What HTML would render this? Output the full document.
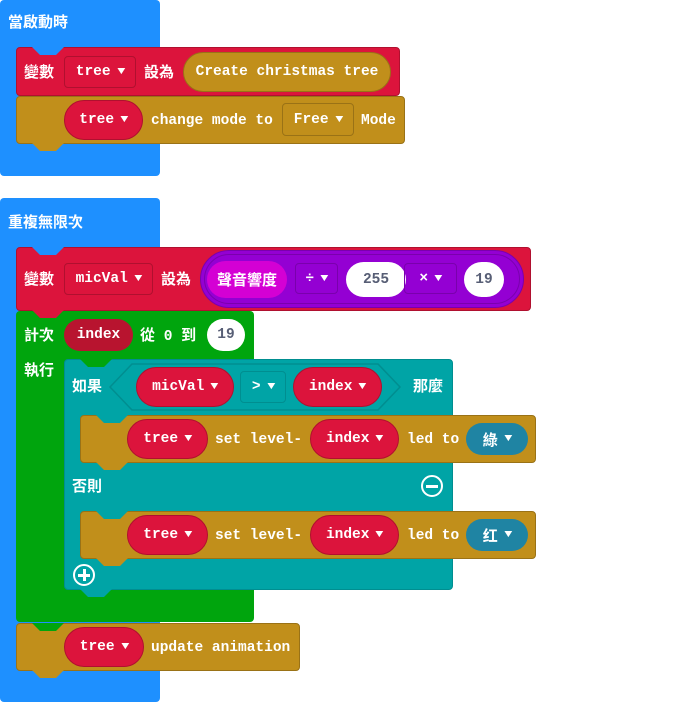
<!DOCTYPE html>
<html><head><meta charset="utf-8"><style>
*{margin:0;padding:0;box-sizing:border-box}
body{width:691px;height:703px;background:#fff;position:relative;overflow:hidden;font-family:"Liberation Mono",monospace;font-weight:bold;color:#fff}
.a{position:absolute}
.b{position:absolute;border-radius:4px}
.t{position:absolute;font-size:14.5px;line-height:20px;white-space:nowrap;font-family:"Liberation Mono","Noto Sans CJK TC",monospace;font-weight:bold;margin-top:1px}
.c{font-family:"Liberation Sans","Noto Sans CJK TC",sans-serif;font-size:15px}
.p{position:absolute;display:flex;align-items:center;justify-content:center;white-space:nowrap;font-size:14.5px}
.tab{position:absolute;width:32px;height:8px;clip-path:polygon(0 0,100% 0,75% 100%,25% 100%)}
.ar{font-size:11px;margin-left:7px;transform:scaleX(1.2)}
.blue{background:#1e90ff}.red{background:#dc143c}.gold{background:#c18f1b}.green{background:#00a50d}.teal{background:#00a4a6}
</style></head><body>

<!-- Block 1 -->
<div class="b blue" style="left:0;top:0;width:160px;height:176px"></div>
<div class="t c" style="left:8px;top:12px">當啟動時</div>
<div class="b red" style="left:16px;top:47px;width:384px;height:49px;border:1px solid #b0102f"></div>
<div class="tab blue" style="left:32px;top:47px"></div>
<div class="t c" style="left:24px;top:62px">變數</div>
<div class="p" style="left:64px;top:56px;width:72px;height:32px;border:1px solid #b0102f;border-radius:4px">tree<span class="ar">▼</span></div>
<div class="t c" style="left:144px;top:62px">設為</div>
<div class="p" style="left:183px;top:52px;width:208px;height:40px;border-radius:20px;background:#c18f1b;border:1px solid #9a7216">Create christmas tree</div>
<div class="b gold" style="left:16px;top:96px;width:389px;height:48px;border:1px solid #9a7216"></div>
<div class="tab gold" style="left:32px;top:143px"></div>
<div class="p red" style="left:64px;top:100px;width:79px;height:40px;border-radius:20px;border:1px solid #b0102f">tree<span class="ar">▼</span></div>
<div class="t" style="left:151px;top:110px">change mode to</div>
<div class="p" style="left:282px;top:103px;width:72px;height:33px;border:1px solid #9a7216;border-radius:4px">Free<span class="ar">▼</span></div>
<div class="t" style="left:361px;top:110px">Mode</div>

<!-- Block 2 -->
<div class="b blue" style="left:0;top:198px;width:160px;height:504px"></div>
<div class="t c" style="left:8px;top:212px">重複無限次</div>

<div class="b red" style="left:16px;top:247px;width:515px;height:64px;border:1px solid #b0102f"></div>
<div class="tab blue" style="left:32px;top:247px"></div>
<div class="t c" style="left:24px;top:269px">變數</div>
<div class="p" style="left:64px;top:263px;width:89px;height:32px;border:1px solid #b0102f;border-radius:4px">micVal<span class="ar">▼</span></div>
<div class="t c" style="left:161px;top:269px">設為</div>
<div class="a" style="left:200px;top:250px;width:324px;height:58px;border-radius:29px;background:#9400d3;border:1px solid #7a00ad"></div>
<div class="a" style="left:204px;top:254px;width:316px;height:50px;border-radius:25px;border:1px solid #7a00ad"></div>
<div class="p c" style="left:207px;top:261px;width:80px;height:37px;border-radius:19px;background:#d400d4;font-size:15px">聲音響度</div>
<div class="p" style="left:295px;top:263px;width:43px;height:31px;border:1px solid #7a00ad;border-radius:4px">÷<span class="ar">▼</span></div>
<div class="p" style="left:346px;top:262px;width:60px;height:35px;border-radius:18px;background:#fff;color:#575e75">255</div>
<div class="p" style="left:404px;top:263px;width:53px;height:31px;border:1px solid #7a00ad;border-radius:4px">×<span class="ar">▼</span></div>
<div class="p" style="left:464px;top:262px;width:40px;height:35px;border-radius:18px;background:#fff;color:#575e75">19</div>

<!-- for loop -->
<div class="b green" style="left:16px;top:311px;width:238px;height:311px"></div>
<div class="tab red" style="left:32px;top:310px"></div>
<div class="t c" style="left:24px;top:325px">計次</div>
<div class="p" style="left:64px;top:319px;width:69px;height:32px;border-radius:16px;background:#b8142f">index</div>
<div class="t" style="left:140px;top:325px"><span class="c">從</span> 0 <span class="c">到</span></div>
<div class="p" style="left:207px;top:319px;width:38px;height:32px;border-radius:16px;background:#fff;color:#575e75">19</div>
<div class="t c" style="left:24px;top:360px">執行</div>

<!-- if -->
<div class="b teal" style="left:64px;top:359px;width:389px;height:231px;border:1px solid #008e90"></div>
<div class="tab green" style="left:80px;top:359px"></div>
<div class="tab teal" style="left:80px;top:589px"></div>
<div class="t c" style="left:72px;top:376px">如果</div>
<svg class="a" style="left:108px;top:363px" width="294" height="48"><polygon points="2,24 24,1 270,1 292,24 270,47 24,47" fill="#00a4a6" stroke="#008e90" stroke-width="1.5"/></svg>
<div class="p red" style="left:136px;top:367px;width:98px;height:40px;border-radius:20px;border:1px solid #b0102f">micVal<span class="ar">▼</span></div>
<div class="p" style="left:240px;top:371px;width:46px;height:32px;border:1px solid #008e90;border-radius:4px">&gt;<span class="ar">▼</span></div>
<div class="p red" style="left:293px;top:367px;width:89px;height:40px;border-radius:20px;border:1px solid #b0102f">index<span class="ar">▼</span></div>
<div class="t c" style="left:413px;top:376px">那麼</div>

<div class="b gold" style="left:80px;top:415px;width:456px;height:48px;border:1px solid #9a7216"></div>
<div class="tab teal" style="left:96px;top:415px"></div>
<div class="tab gold" style="left:96px;top:462px"></div>
<div class="p red" style="left:127px;top:419px;width:81px;height:40px;border-radius:20px;border:1px solid #b0102f">tree<span class="ar">▼</span></div>
<div class="t" style="left:215px;top:429px">set level-</div>
<div class="p red" style="left:310px;top:419px;width:89px;height:40px;border-radius:20px;border:1px solid #b0102f">index<span class="ar">▼</span></div>
<div class="t" style="left:407px;top:429px">led to</div>
<div class="p" style="left:466px;top:423px;width:62px;height:32px;border-radius:16px;background:#1f84a3"><span class="c">綠</span><span class="ar">▼</span></div>

<div class="t c" style="left:72px;top:476px">否則</div>
<div class="a" style="left:421px;top:475px;width:22px;height:22px;border:2px solid #fff;border-radius:50%"></div>
<div class="a" style="left:426px;top:485px;width:12px;height:3px;background:#fff"></div>

<div class="b gold" style="left:80px;top:511px;width:456px;height:48px;border:1px solid #9a7216"></div>
<div class="tab teal" style="left:96px;top:511px"></div>
<div class="tab gold" style="left:96px;top:558px"></div>
<div class="p red" style="left:127px;top:515px;width:81px;height:40px;border-radius:20px;border:1px solid #b0102f">tree<span class="ar">▼</span></div>
<div class="t" style="left:215px;top:525px">set level-</div>
<div class="p red" style="left:310px;top:515px;width:89px;height:40px;border-radius:20px;border:1px solid #b0102f">index<span class="ar">▼</span></div>
<div class="t" style="left:407px;top:525px">led to</div>
<div class="p" style="left:466px;top:519px;width:62px;height:32px;border-radius:16px;background:#1f84a3"><span class="c">红</span><span class="ar">▼</span></div>

<div class="a" style="left:73px;top:564px;width:22px;height:22px;border:2px solid #fff;border-radius:50%"></div>
<div class="a" style="left:78px;top:574px;width:12px;height:3px;background:#fff"></div>
<div class="a" style="left:82.5px;top:569px;width:3px;height:12px;background:#fff"></div>

<!-- update -->
<div class="b gold" style="left:16px;top:623px;width:284px;height:48px;border:1px solid #9a7216"></div>
<div class="tab green" style="left:32px;top:623px"></div>
<div class="tab gold" style="left:32px;top:670px"></div>
<div class="p red" style="left:64px;top:627px;width:80px;height:40px;border-radius:20px;border:1px solid #b0102f">tree<span class="ar">▼</span></div>
<div class="t" style="left:151px;top:637px">update animation</div>
</body></html>
